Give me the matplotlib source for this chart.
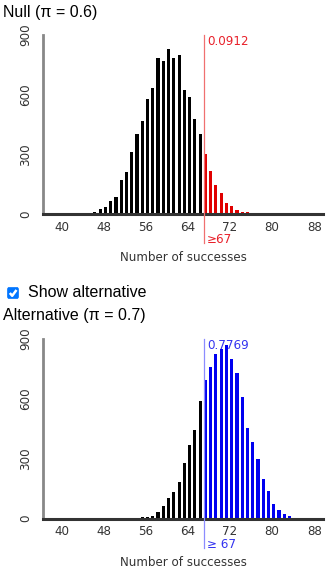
import matplotlib.pyplot as plt
from matplotlib.patches import FancyBboxPatch
import numpy as np

# simulated counts of successes out of 100 trials, 10000 repetitions
null_k = [41, 44, 45, 46, 47, 48, 49, 50, 51, 52, 53, 54, 55, 56, 57, 58, 59,
          60, 61, 62, 63, 64, 65, 66, 67, 68, 69, 70, 71, 72, 73, 74, 75, 76, 78]
null_n = [3, 3, 3, 8, 23, 33, 64, 85, 169, 213, 310, 402, 466, 580, 636, 786,
          770, 828, 786, 801, 624, 590, 478, 402, 302, 216, 148, 104, 57, 38,
          19, 12, 8, 6, 2]

alt_k = [50, 53, 54, 55, 56, 57, 58, 59, 60, 61, 62, 63, 64, 65, 66, 67, 68,
         69, 70, 71, 72, 73, 74, 75, 76, 77, 78, 79, 80, 81, 82, 83, 84, 85]
alt_n = [2, 2, 4, 7, 7, 13, 33, 62, 104, 134, 184, 279, 368, 443, 591, 695,
         758, 824, 850, 870, 800, 728, 608, 454, 382, 297, 197, 139, 73, 43,
         25, 13, 5, 2]

cutoff = 67
null_p = "0.0912"
alt_p = "0.7769"
xticks = [40, 48, 56, 64, 72, 80, 88]
yticks = [0, 300, 600, 900]

W, H = 326, 569
fig = plt.figure(figsize=(W / 100, H / 100), dpi=100)


def panel(top, bot, ks, ns, col, linecol, pcol, ptxt, cuttxt):
    ax = fig.add_axes([43 / W, 1 - bot / H, 280 / W, (bot - top) / H])
    ks = np.array(ks)
    ns = np.array(ns)
    cols = np.where(ks >= cutoff, col, "black")
    ax.bar(ks, ns, width=0.6, align="edge", color=cols, zorder=2)
    ax.set_xlim(36.43, 89.66)
    ax.set_ylim(0, 900)
    ax.set_xticks(xticks)
    ax.set_yticks(yticks)
    ax.set_yticklabels([str(t) for t in yticks], rotation=90, va="center")
    ax.tick_params(axis="both", length=0, labelsize=8.6, colors="#333333")
    ax.tick_params(axis="x", pad=5)
    ax.tick_params(axis="y", pad=8)
    for s in ["top", "right"]:
        ax.spines[s].set_visible(False)
    ax.spines["left"].set_color("#888888")
    ax.spines["left"].set_linewidth(2)
    ax.spines["bottom"].set_color("#333333")
    ax.spines["bottom"].set_linewidth(2.2)
    ax.spines["bottom"].set_zorder(3)
    ax.set_xlabel("Number of successes", fontsize=8.6, color="#333333",
                  labelpad=12.5)
    # cutoff line running from the top down past the tick labels
    ax.plot([cutoff, cutoff], [900, -146], color=linecol, lw=0.9,
            clip_on=False, zorder=4)
    ax.text(cutoff + 0.6, 865, ptxt, color=pcol, fontsize=8.6,
            va="center", ha="left")
    ax.text(cutoff + 0.6, -128, cuttxt, color=pcol, fontsize=8.6,
            va="center", ha="left")
    return ax


panel(35, 214, null_k, null_n, "#e00000", "#f07070", "#e8202a",
      null_p, "≥67")
panel(339, 518.5, alt_k, alt_n, "#0000f0", "#8c8cff", "#3434f0",
      alt_p, "≥ 67")

title_font = dict(family=["Liberation Sans", "DejaVu Sans"], fontsize=11.5,
                  color="black", va="center", ha="left")
fig.text(3 / W, 1 - 12 / H, "Null (π = 0.6)", **title_font)
fig.text(28 / W, 1 - 293 / H, "Show alternative", **title_font)
fig.text(3 / W, 1 - 315.5 / H, "Alternative (π = 0.7)", **title_font)

# checkbox
box = FancyBboxPatch((7.5 / W, 1 - 298.5 / H), 11 / W, 11 / H,
                     boxstyle="round,pad=0,rounding_size=0.004",
                     transform=fig.transFigure, facecolor="#0075ff",
                     edgecolor="#0075ff", lw=0.5)
fig.patches.append(box)
fig.lines.append(plt.Line2D([9.8 / W, 12.2 / W, 16.5 / W],
                            [1 - 293 / H, 1 - 295.8 / H, 1 - 290 / H],
                            transform=fig.transFigure, color="white",
                            lw=1.8, solid_capstyle="butt"))

fig.savefig("out.png", dpi=100)
